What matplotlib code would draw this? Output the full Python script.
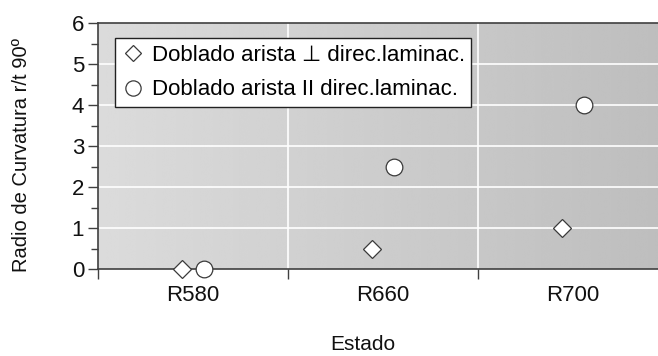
import numpy as np
import matplotlib
matplotlib.use("Agg")
import matplotlib.pyplot as plt
from matplotlib.lines import Line2D

plt.rcParams['font.family'] = ['Liberation Sans', 'DejaVu Sans']

# Data
estados = ["R580", "R660", "R700"]
radio_perpendicular = [0.0, 0.5, 1.0]
radio_paralelo = [0.0, 2.5, 4.0]
y_ticks = [0, 1, 2, 3, 4, 5, 6]
label_perp = "Doblado arista \u22a5 direc.laminac."
label_par = "Doblado arista II direc.laminac."

W, H = 658, 356
fig = plt.figure(figsize=(W / 100, H / 100), dpi=100)
ax = fig.add_axes([98 / W, 1 - 269.3 / H, (W - 98) / W, (269.3 - 23) / H])

n = len(estados)
centers = np.arange(n) + 0.5
xmax = (W - 98) / 190.0
ax.set_xlim(0, xmax)
ax.set_ylim(0, 6)

# Gradient plot area background
grad = np.linspace(0.86, 0.745, 256).reshape(1, -1)
ax.imshow(grad, extent=[0, 1, 0, 1], transform=ax.transAxes, cmap="gray",
          vmin=0, vmax=1, aspect="auto", zorder=0, interpolation="bicubic")

# Grid lines
for y in y_ticks[1:-1]:
    ax.axhline(y, color="white", lw=1.2, zorder=1)
for x in range(1, n):
    ax.axvline(x, color="white", lw=1.2, zorder=1)

edge = "#3a3a3a"
off = 0.06
ax.plot(centers - off, radio_perpendicular, linestyle="none", marker="D", ms=8.8,
        mfc="white", mec=edge, mew=0.9, zorder=3, clip_on=False)
ax.plot(centers + off, radio_paralelo, linestyle="none", marker="o", ms=12,
        mfc="white", mec=edge, mew=0.9, zorder=3, clip_on=False)

# Axes styling
for s in ["left", "bottom", "top"]:
    ax.spines[s].set_color("#404040")
    ax.spines[s].set_linewidth(1.2)
ax.spines["right"].set_visible(False)

ax.set_yticks(y_ticks)
ax.set_yticks(np.arange(0.5, 6, 1.0), minor=True)
ax.tick_params(axis="y", which="major", direction="out", length=7, width=1,
               color="#404040", labelsize=16, labelcolor="#111111", pad=3)
ax.tick_params(axis="y", which="minor", direction="out", length=5, width=1,
               color="#404040")

ax.set_xticks(np.arange(0, n))
ax.set_xticklabels([])
ax.set_xticks(centers, minor=True)
ax.set_xticklabels(estados, minor=True)
ax.tick_params(axis="x", which="major", direction="out", length=7, width=1,
               color="#404040")
ax.tick_params(axis="x", which="minor", length=0, labelsize=16,
               labelcolor="#111111", pad=11)

fig.text(22 / W, 1 - 155 / H, "Radio de Curvatura r/t 90º", rotation=90,
         ha="center", va="center", fontsize=14.5, color="#111111")
fig.text(363 / W, 1 - 345 / H, "Estado", ha="center", va="center",
         fontsize=15, color="#111111")

handles = [
    Line2D([], [], linestyle="none", marker="D", ms=8, mfc="white", mec=edge, mew=0.9),
    Line2D([], [], linestyle="none", marker="o", ms=11, mfc="white", mec=edge, mew=0.9),
]
leg = ax.legend(handles, [label_perp, label_par], loc="upper left",
                bbox_to_anchor=((115 - 98) / (W - 98), (269.3 - 38) / (269.3 - 23)),
                fontsize=16, frameon=True, fancybox=False, framealpha=1,
                edgecolor="#222222", borderpad=0.3, handletextpad=0.35,
                handlelength=1.0, labelspacing=0.62, borderaxespad=0)
leg.get_frame().set_linewidth(1.0)

fig.savefig("out.png", dpi=100)
